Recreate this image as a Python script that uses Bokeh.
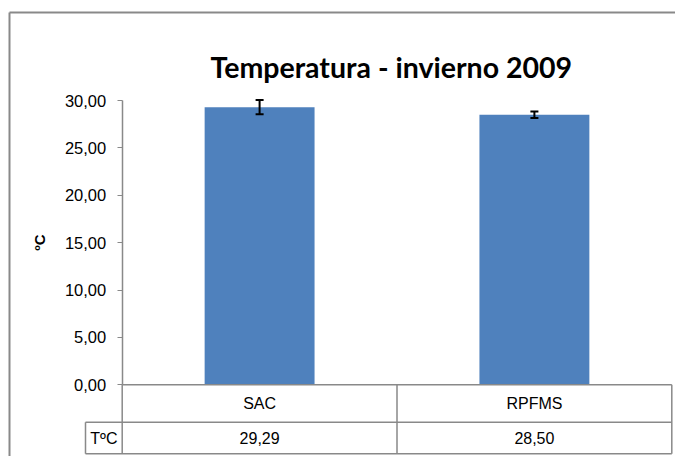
import math
from bokeh.plotting import figure
from bokeh.models import (Range1d, ColumnDataSource, Whisker, TeeHead, FixedTicker, Label)
from bokeh.embed import file_html
from bokeh.resources import INLINE
from bokeh.core.properties import value

# ---- data ----
categories = ["SAC", "RPFMS"]
temperatures = [29.29, 28.50]
errors = [0.75, 0.35]
y_ticks = [0, 5, 10, 15, 20, 25, 30]
title_text = "Temperatura - invierno 2009"
y_label = "ºC"
row_label = "TºC"

def fmt(v):
    return f"{v:.2f}".replace(".", ",")

# ---- layout constants (canvas pixels) ----
W, H = 675, 456
X0_PX = 121.7            # left edge of first category (value axis position)
XN_PX = 671.3            # right edge of last category
TOP_TICK_PX = 100.0      # canvas y of the value 30
ZERO_PX = 384.3          # canvas y of the value 0
ROW_SPLIT_PX = 421.7
TABLE_BOTTOM_PX = 453.3
CELL_LEFT_PX = 85.0
BORDER_LEFT_PX, BORDER_TOP_PX = 9.0, 12.0
Y_AXIS_MAX = 30

n = len(categories)
CW = (XN_PX - X0_PX) / n
PPU = (ZERO_PX - TOP_TICK_PX) / Y_AXIS_MAX

def xd(px):
    return (px - X0_PX) / CW

def yd(px):
    return (ZERO_PX - px) / PPU

GRAY = "#898989"
BLUE = "#4F81BD"
FONT = "Liberation Sans"

p = figure(width=W, height=H, output_backend="svg", toolbar_location=None,
           x_range=Range1d(xd(0), xd(W)), y_range=Range1d(yd(H), yd(0)),
           x_axis_location=None, min_border=0, min_border_left=0, min_border_right=0,
           min_border_top=0, min_border_bottom=0,
           background_fill_color="white", border_fill_color="white")
p.outline_line_color = None
p.xgrid.visible = False
p.ygrid.visible = False

# bars + error bars (category i occupies [i, i+1])
xpos = [i + 0.5 for i in range(n)]
src = ColumnDataSource(dict(x=xpos, cat=categories, val=temperatures,
                            upper=[v + e for v, e in zip(temperatures, errors)],
                            lower=[v - e for v, e in zip(temperatures, errors)],
                            label=[fmt(v) for v in temperatures]))
p.vbar(x="x", top="val", bottom=0, width=0.4, source=src, fill_color=BLUE,
       line_color=None)
p.add_layout(Whisker(base="x", upper="upper", lower="lower", source=src, level="overlay",
                     line_color="black", line_width=2,
                     upper_head=TeeHead(size=8, line_width=2, line_color="black"),
                     lower_head=TeeHead(size=8, line_width=2, line_color="black")))

# value axis
ax = p.yaxis[0]
ax.fixed_location = 0
ax.ticker = FixedTicker(ticks=y_ticks)
ax.bounds = (0, Y_AXIS_MAX)
ax.major_label_overrides = {t: fmt(t) for t in y_ticks}
ax.axis_line_color = GRAY
ax.axis_line_width = 1.5
ax.major_tick_line_color = GRAY
ax.minor_tick_line_color = None
ax.major_tick_in = 0
ax.major_tick_out = 5
ax.major_label_standoff = 11
ax.major_label_text_font = FONT
ax.major_label_text_font_size = "16.5px"
ax.major_label_text_color = "black"

# title and axis title
p.add_layout(Label(x=xd(210), y=yd(66.5), text=title_text, text_align="left",
                   text_baseline="alphabetic", text_font="Lato", text_font_style="bold",
                   text_font_size="28.5px", text_color="black"))
p.add_layout(Label(x=xd(38.5), y=yd(242), text=y_label, angle=math.pi / 2,
                   text_align="center", text_baseline="middle", text_font=FONT,
                   text_font_style="bold", text_font_size="15px", text_color="black"))

# data table grid
r0, r1, r2 = 0.0, yd(ROW_SPLIT_PX), yd(TABLE_BOTTOM_PX)
xl = xd(CELL_LEFT_PX)
p.segment(x0=[0, xl, xl], x1=[n, n, n], y0=[r0, r1, r2], y1=[r0, r1, r2],
          line_color=GRAY, line_width=1.5)
p.segment(x0=[xl] + list(range(n + 1)), x1=[xl] + list(range(n + 1)),
          y0=[r1] + [r0] * (n + 1), y1=[r2] * (n + 2), line_color=GRAY, line_width=1.5)

row1_y = (r0 + r1) / 2
row2_y = (r1 + r2) / 2
p.text(x="x", y=row1_y, text="cat", source=src, text_align="center",
       text_baseline="middle", text_font=value(FONT), text_font_size="16px",
       text_color="black")
p.text(x="x", y=row2_y, text="label", source=src, text_align="center",
       text_baseline="middle", text_font=value(FONT), text_font_size="16px",
       text_color="black")
p.add_layout(Label(x=(xl + 0) / 2, y=row2_y, text=row_label, text_align="center",
                   text_baseline="middle", text_font=FONT, text_font_size="16px",
                   text_color="black"))

# outer chart border (runs off the right and bottom edges)
bx, by = xd(BORDER_LEFT_PX), yd(BORDER_TOP_PX)
p.segment(x0=[bx, bx], y0=[yd(H + 5), by], x1=[bx, xd(W + 5)], y1=[by, by],
          line_color=GRAY, line_width=2)

open("out.html", "w").write(file_html(p, INLINE))
